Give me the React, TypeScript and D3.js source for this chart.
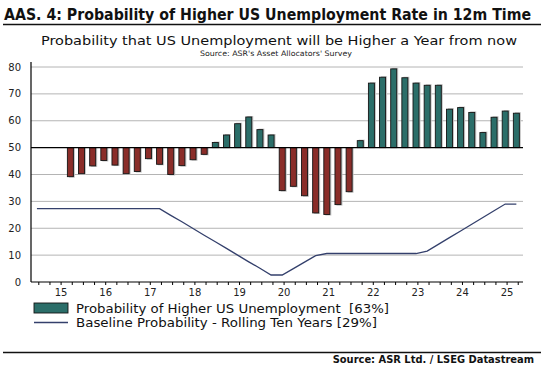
import React from "react";
import * as d3 from "d3";

// ---- Data ----
const yearLabels = ["15", "16", "17", "18", "19", "20", "21", "22", "23", "24", "25"];
const yearValues = [2015, 2016, 2017, 2018, 2019, 2020, 2021, 2022, 2023, 2024, 2025];
const yTicks = [0, 10, 20, 30, 40, 50, 60, 70, 80];

// quarterly survey readings (first reading ~Q3 2015)
const firstBarDate = 2015.708;
const probabilityHigher = [
  39.2, 40.3, 43.2, 45.2, 43.5, 40.3, 41.1, 45.9, 43.8, 40.0, 43.3, 45.5, 47.5,
  51.9, 54.7, 58.9, 61.4, 56.7, 54.7,
  34.0, 35.6, 32.1, 25.7, 25.1, 28.8, 33.6,
  52.6, 74.0, 76.2, 79.3, 76.0, 74.0, 73.2, 73.2, 64.3, 64.9, 63.1, 55.6, 61.3, 63.6, 62.8,
];

// baseline probability, rolling ten years (starts three quarters before first survey bar)
const firstLineDate = 2014.958;
const baselineProbability = [
  27.3, 27.3, 27.3, 27.3, 27.3, 27.3, 27.3, 27.3, 27.3, 27.3, 27.3, 27.3,
  24.8, 22.4, 19.9, 17.4, 15.0, 12.5, 10.0, 7.5, 5.1, 2.6,
  2.6, 5.0, 7.4, 9.8, 10.6,
  10.6, 10.6, 10.6, 10.6, 10.6, 10.6, 10.6, 10.6,
  11.5, 14.0, 16.5, 19.0, 21.5, 24.0, 26.5, 29.0, 29.0,
];

const legendLabels = [
  "Probability of Higher US Unemployment  [63%]",
  "Baseline Probability - Rolling Ten Years [29%]",
];

const GREEN = "#2b6e69";
const RED = "#8a2d29";
const LINE = "#34406c";
const FONT = "'DejaVu Sans', Verdana, sans-serif";
const FONT_C = "'DejaVu Sans Condensed', 'DejaVu Sans', sans-serif";

export default function App() {
  const W = 545;
  const H = 375;
  const left = 31;
  const right = 523;
  const bottom = 282;
  const top = 62;

  const x = d3.scaleLinear().domain([2014.825, 2025.857]).range([left, right]);
  const y = d3.scaleLinear().domain([0, 80]).range([bottom, 67]);

  const barDates = probabilityHigher.map((_, i) => firstBarDate + i * 0.25);
  const lineDates = baselineProbability.map((_, i) => firstLineDate + i * 0.25);

  const bw = 6;
  const base = y(50);

  const line = d3
    .line<number>()
    .x((_, i) => x(lineDates[i]))
    .y((d) => y(d));

  const quarterTicks: number[] = [];
  for (let t = 2015; t <= 2025.75; t += 0.25) {
    if (x(t) <= right) quarterTicks.push(t);
  }

  return (
    <svg
      width={W}
      height={H}
      style={{ position: "absolute", left: 0, top: 0, background: "#fff" }}
      fontFamily={FONT}
    >
      <rect x={0} y={0} width={W} height={H} fill="#fff" />
      {/* Title */}
      <text x={4} y={20} fontSize={16} fontWeight="bold" fontFamily={FONT_C} fill="#111" textLength={527} lengthAdjust="spacingAndGlyphs">
        AAS. 4: Probability of Higher US Unemployment Rate in 12m Time
      </text>
      <line x1={3} x2={541} y1={24.5} y2={24.5} stroke="#111" strokeWidth={1.5} />
      <text x={279} y={45} fontSize={13} fontFamily={FONT_C} textAnchor="middle" fill="#111" textLength={476} lengthAdjust="spacingAndGlyphs">
        Probability that US Unemployment will be Higher a Year from now
      </text>
      <text x={276} y={56} fontSize={7.5} fontFamily={FONT_C} textAnchor="middle" fill="#222" textLength={152} lengthAdjust="spacingAndGlyphs">
        Source: ASR's Asset Allocators' Survey
      </text>

      {/* gridlines */}
      {yTicks.filter((v) => v !== 0 && v !== 50).map((v) => (
        <line key={"g" + v} x1={left} x2={right} y1={y(v)} y2={y(v)} stroke="#b4b4b4" strokeWidth={1} />
      ))}

      {/* bars */}
      {probabilityHigher.map((v, i) => {
        const cx = x(barDates[i]);
        const yy = y(v);
        const y0 = Math.min(yy, base);
        const h = Math.abs(yy - base);
        const fill = v >= 50 ? GREEN : RED;
        return (
          <g key={"b" + i}>
            <rect x={cx - bw / 2 + 1.5} y={v >= 50 ? y0 - 1 : y0} width={bw} height={h + 1} fill="#c4c4c4" />
            <rect x={cx - bw / 2} y={y0} width={bw} height={h} fill={fill} stroke="#151515" strokeWidth={0.9} />
          </g>
        );
      })}

      {/* 50 line */}
      <line x1={left} x2={right} y1={base} y2={base} stroke="#000" strokeWidth={1.2} />

      {/* baseline probability line */}
      <path d={line(baselineProbability) || ""} fill="none" stroke={LINE} strokeWidth={1.3} />

      {/* axes */}
      <line x1={left} x2={left} y1={top} y2={bottom} stroke="#000" strokeWidth={1.2} />
      <line x1={left} x2={right} y1={bottom} y2={bottom} stroke="#000" strokeWidth={1.2} />
      {quarterTicks.map((t, i) => (
        <line key={"t" + i} x1={x(t)} x2={x(t)} y1={bottom} y2={bottom + 3} stroke="#000" strokeWidth={1} />
      ))}
      {yTicks.map((v) => (
        <text key={"yl" + v} x={21} y={y(v) + 3.5} fontSize={10} textAnchor="end" fill="#222">
          {v}
        </text>
      ))}
      {yearValues.map((yr, i) => (
        <text key={"xl" + yr} x={x(yr + 0.5)} y={296} fontSize={10} textAnchor="middle" fill="#222">
          {yearLabels[i]}
        </text>
      ))}

      {/* legend */}
      <rect x={34} y={303} width={34} height={10} fill={GREEN} stroke="#151515" strokeWidth={0.9} />
      <text x={76} y={313} fontSize={12} fill="#111" style={{ whiteSpace: "pre" }} textLength={313} lengthAdjust="spacingAndGlyphs">
        {legendLabels[0]}
      </text>
      <line x1={34} x2={68} y1={322.5} y2={322.5} stroke={LINE} strokeWidth={1.3} />
      <text x={76} y={327} fontSize={12} fill="#111" style={{ whiteSpace: "pre" }} textLength={301} lengthAdjust="spacingAndGlyphs">
        {legendLabels[1]}
      </text>

      {/* footer */}
      <line x1={3} x2={541} y1={352.5} y2={352.5} stroke="#111" strokeWidth={1.5} />
      <text x={534} y={363} fontSize={11} fontWeight="bold" fontFamily={FONT_C} textAnchor="end" fill="#111">
        Source: ASR Ltd. / LSEG Datastream
      </text>
    </svg>
  );
}
